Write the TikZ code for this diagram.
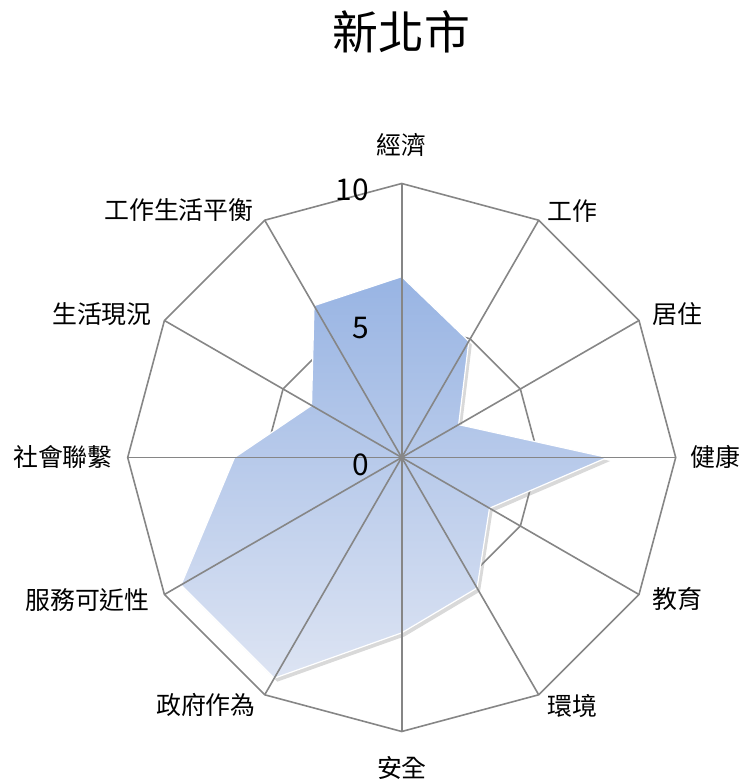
\documentclass[tikz,border=0pt]{standalone}
\usepackage{fontspec}
\setmainfont{Noto Sans CJK TC}
\usepackage{tikz}
\usepackage{xcolor}
\usetikzlibrary{shadows}

\definecolor{gridgray}{RGB}{134,134,134}
\definecolor{areatop}{RGB}{152,180,227}
\definecolor{areabot}{RGB}{221,228,243}

\begin{document}
\begin{tikzpicture}[x=1bp,y=1bp,
  gridline/.style={draw=gridgray, line width=1.6bp, line join=miter},
  axislbl/.style={font=\fontsize{25}{29}\selectfont, inner sep=0pt},
  ticklbl/.style={font=\fontsize{30}{34}\selectfont, inner sep=0pt, anchor=east}]
\useasboundingbox (-401.7,-325.5) rectangle (340.3,457.5);

% Spoke ends and ring at 5
\coordinate (ctr) at (0,0);
\foreach \i in {0,...,11} {
    \pgfmathsetmacro{\a}{90-30*\i}
    \coordinate (o\i) at (\a:274);
    \coordinate (h\i) at (\a:137);
}
\draw[gridline] (h0) \foreach \i in {1,...,11} { -- (h\i) } -- cycle;

% Data area
\foreach \v [count=\i from 0] in {6.6,4.9,2.4,7.5,3.7,5.5,6.4,9.3,9.3,6.1,3.8,6.4} {
    \pgfmathsetmacro{\a}{90-30*\i}
    \pgfmathsetmacro{\r}{\v*27.4}
    \coordinate (d\i) at (\a:\r);
}
\shade[top color=areatop, bottom color=areabot, draw=white, line width=1.2bp,
  drop shadow={shadow xshift=3bp, shadow yshift=-3.5bp, opacity=0.3}]
  (d0) \foreach \i in {1,...,11} { -- (d\i) } -- cycle;

% Spokes and outer ring
\foreach \i in {0,...,11} {
    \draw[gridline] (ctr) -- (o\i);
}
\draw[gridline] (o0) \foreach \i in {1,...,11} { -- (o\i) } -- cycle;

% Scale values
\node[ticklbl] (t10) at (-32.7,267.5) {10};
\node[ticklbl] (t5) at (-32.7,129.5) {5};
\node[ticklbl] (t0) at (-32.7,-7.5) {0};

% Axis labels
\foreach \txt/\x/\y [count=\i] in {經濟/0/312.5, 工作/170.3/246.5, 居住/275.3/143.5,
    健康/313.3/0.5, 教育/275.3/-141.5, 環境/170.3/-248.5, 安全/0.3/-310.5,
    政府作為/-195.7/-247.5, 服務可近性/-314.2/-142.5, 社會聯繫/-338.7/0.5,
    生活現況/-299.7/143.5, 工作生活平衡/-222.7/247.5} {
    \node[axislbl] (lbl\i) at (\x,\y) {\txt};
}

% Title
\node[font=\fontsize{46}{52}\selectfont, inner sep=0pt] (title) at (0,425.5) {新北市};
\end{tikzpicture}
\end{document}
